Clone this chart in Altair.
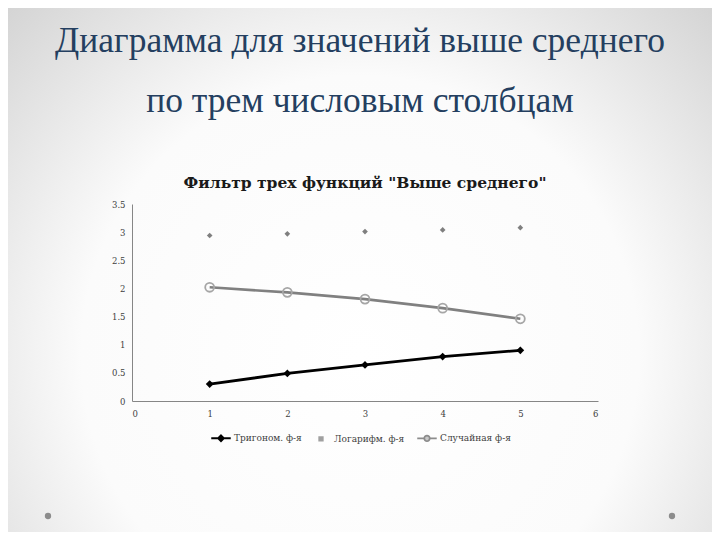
import altair as alt
import pandas as pd

# ---- data ----
x_vals = [1, 2, 3, 4, 5]
trig_vals = [0.30, 0.49, 0.64, 0.79, 0.90]
log_vals = [2.94, 2.97, 3.01, 3.04, 3.08]
rand_vals = [2.02, 1.93, 1.81, 1.65, 1.46]
series_names = ["Тригоном. ф-я", "Логарифм. ф-я", "Случайная ф-я"]
y_ticks = [0, 0.5, 1, 1.5, 2, 2.5, 3, 3.5]
x_ticks = [0, 1, 2, 3, 4, 5, 6]

slide_title_1 = "Диаграмма для значений выше среднего"
slide_title_2 = "по трем числовым столбцам"
chart_title = 'Фильтр трех функций "Выше среднего"'

rows = []
for name, vals in zip(series_names, [trig_vals, log_vals, rand_vals]):
    for xv, yv in zip(x_vals, vals):
        rows.append({"x": xv, "y": yv, "series": name})
df = pd.DataFrame(rows)

W, H = 466, 197
PAD = {"left": 124, "top": 196, "right": 114, "bottom": 131}
SERIF = "DejaVu Serif"
TITLE_FONT = "Liberation Serif"

xenc = alt.X("x:Q", scale=alt.Scale(domain=[0, 6], nice=False),
             axis=alt.Axis(values=x_ticks, format="d", title=None, zindex=1))
yenc = alt.Y("y:Q", scale=alt.Scale(domain=[0, 3.5], nice=False),
             axis=alt.Axis(values=y_ticks, format="~g", title=None, zindex=1))

base = alt.Chart(df)
one = alt.Data(values=[{}])

# slide background (radial gradient like the presentation template)
bg = alt.Chart(one).mark_rect(
    fill={"gradient": "radial", "x1": 0.5, "y1": 0.62, "r1": 0,
          "x2": 0.5, "y2": 0.62, "r2": 0.72,
          "stops": [{"offset": 0, "color": "#ffffff"},
                    {"offset": 0.55, "color": "#fbfbfb"},
                    {"offset": 1, "color": "#d2d2d2"}]}
).encode(x=alt.value(-PAD["left"]), x2=alt.value(W + PAD["right"]),
         y=alt.value(-PAD["top"]), y2=alt.value(H + PAD["bottom"]))

dot_l = alt.Chart(one).mark_point(filled=True, color="#8c8c8c", size=40, opacity=1
                                  ).encode(x=alt.value(-84), y=alt.value(312))
dot_r = alt.Chart(one).mark_point(filled=True, color="#8c8c8c", size=40, opacity=1
                                  ).encode(x=alt.value(540), y=alt.value(312))

# titles
t1 = alt.Chart(one).mark_text(font=TITLE_FONT, fontSize=35.5, color="#243f60",
                              align="center", baseline="alphabetic", text=slide_title_1
                              ).encode(x=alt.value(W / 2 - 5), y=alt.value(-152))
t2 = alt.Chart(one).mark_text(font=TITLE_FONT, fontSize=35.5, color="#243f60",
                              align="center", baseline="alphabetic", text=slide_title_2
                              ).encode(x=alt.value(W / 2 - 5), y=alt.value(-92))
t3 = alt.Chart(one).mark_text(font=SERIF, fontSize=15.5, fontWeight="bold",
                              color="#1a1a1a", align="center", baseline="alphabetic",
                              text=chart_title
                              ).encode(x=alt.value(W / 2), y=alt.value(-16))

trig = base.transform_filter(alt.datum.series == series_names[0])
logs = base.transform_filter(alt.datum.series == series_names[1])
rand = base.transform_filter(alt.datum.series == series_names[2])

trig_line = trig.mark_line(color="#000000", strokeWidth=2.8).encode(x=xenc, y=yenc)
trig_pts = trig.mark_point(shape="diamond", filled=True, color="#000000",
                           size=60, opacity=1).encode(x=xenc, y=yenc)
log_pts = logs.mark_point(shape="diamond", filled=True, color="#7f7f7f",
                          size=32, opacity=1).encode(x=xenc, y=yenc)
rand_line = rand.mark_line(color="#808080", strokeWidth=2.6).encode(x=xenc, y=yenc)
rand_pts = rand.mark_point(shape="circle", filled=False, color="#a6a6a6",
                           strokeWidth=1.8, size=80, opacity=1).encode(x=xenc, y=yenc)

legend_shapes = [
    "M-1,0L1,0M0,-0.3L0.3,0L0,0.3L-0.3,0Z",
    "M-0.18,-0.18L0.18,-0.18L0.18,0.18L-0.18,0.18Z",
    "M-1,0L-0.28,0M0.28,0L1,0M0.28,0A0.28,0.28 0 1,1 -0.28,0A0.28,0.28 0 1,1 0.28,0Z",
]
legend_layer = base.mark_point(filled=False, opacity=0, strokeWidth=2).encode(
    x=xenc, y=yenc,
    color=alt.Color("series:N",
                    scale=alt.Scale(domain=series_names,
                                    range=["#000000", "#a0a0a0", "#8c8c8c"]),
                    legend=alt.Legend(title=None, orient="none", direction="horizontal",
                                      legendX=78, legendY=223, symbolSize=380,
                                      symbolOpacity=1, symbolStrokeWidth=1.8,
                                      labelFont=SERIF, labelFontSize=9,
                                      labelColor="#404040", columnPadding=8,
                                      labelOffset=2, labelLimit=200, zindex=1)),
    fill=alt.Fill("series:N",
                  scale=alt.Scale(domain=series_names,
                                  range=["#000000", "#a0a0a0", "#c8c8c8"])),
    shape=alt.Shape("series:N",
                    scale=alt.Scale(domain=series_names, range=legend_shapes)),
)

chart = alt.layer(
    bg, dot_l, dot_r, t1, t2, t3,
    rand_line, rand_pts, trig_line, trig_pts, log_pts, legend_layer
).properties(
    width=W, height=H, padding=PAD,
    autosize=alt.AutoSizeParams(type="none"),
).configure_view(stroke=None).configure_axis(
    grid=False, ticks=False, domainColor="#868686", domainWidth=1,
    labelFont=SERIF, labelFontSize=8.5, labelColor="#404040",
).configure_axisX(labelPadding=8).configure_axisY(labelPadding=7)

chart.save("out.html", embed_options={"renderer": "svg", "actions": False})
